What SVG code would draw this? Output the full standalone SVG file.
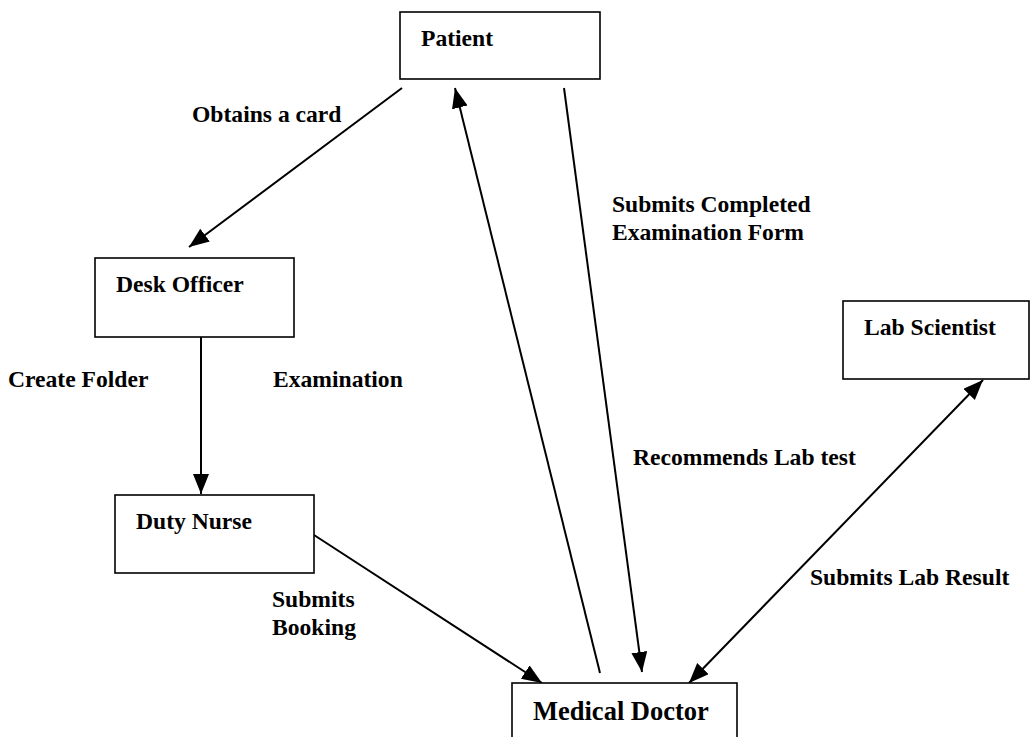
<svg xmlns="http://www.w3.org/2000/svg" width="1030" height="737" viewBox="0 0 1030 737">
  <style>
    .box { fill: #ffffff; stroke: #000000; stroke-width: 1.6; }
    .lbl { font-family: "Liberation Serif", "Times New Roman", serif; font-weight: bold; font-size: 23.6px; fill: #000000; }
    .big { font-size: 26.5px; }
    .edge { stroke: #000000; stroke-width: 2; fill: none; }
  </style>
  <defs>
    <marker id="head" markerUnits="userSpaceOnUse" markerWidth="22" markerHeight="18" refX="20" refY="8" orient="auto-start-reverse">
      <path d="M0,0 L20,8 L0,16 z" fill="#000000"/>
    </marker>
  </defs>

  <rect width="1030" height="737" fill="#ffffff"/>

  <!-- connectors -->
  <g id="connectors">
    <line class="edge" x1="402" y1="88" x2="189" y2="247" marker-end="url(#head)"/>
    <line class="edge" x1="201" y1="337" x2="201" y2="494" marker-end="url(#head)"/>
    <line class="edge" x1="314" y1="535" x2="542" y2="683" marker-end="url(#head)"/>
    <line class="edge" x1="600" y1="673" x2="455" y2="88" marker-end="url(#head)"/>
    <line class="edge" x1="564" y1="88" x2="642" y2="672" marker-end="url(#head)"/>
    <line class="edge" x1="689" y1="683" x2="983" y2="380" marker-start="url(#head)" marker-end="url(#head)"/>
  </g>

  <!-- connector labels -->
  <g id="labels">
    <text class="lbl" x="192" y="122">Obtains a card</text>
    <text class="lbl" x="8" y="387">Create Folder</text>
    <text class="lbl" x="273" y="387">Examination</text>
    <text class="lbl" x="272" y="607">Submits</text>
    <text class="lbl" x="272" y="635">Booking</text>
    <text class="lbl" x="612" y="212">Submits Completed</text>
    <text class="lbl" x="612" y="240">Examination Form</text>
    <text class="lbl" x="633" y="465">Recommends Lab test</text>
    <text class="lbl" x="810" y="585">Submits Lab Result</text>
  </g>

  <!-- nodes -->
  <g id="patient">
    <rect class="box" x="400" y="12" width="200" height="67"/>
    <text class="lbl" x="421" y="46">Patient</text>
  </g>
  <g id="desk-officer">
    <rect class="box" x="95" y="258" width="199" height="79"/>
    <text class="lbl" x="116" y="292">Desk Officer</text>
  </g>
  <g id="duty-nurse">
    <rect class="box" x="115" y="495" width="199" height="78"/>
    <text class="lbl" x="136" y="529">Duty Nurse</text>
  </g>
  <g id="lab-scientist">
    <rect class="box" x="843" y="301" width="186" height="78"/>
    <text class="lbl" x="864" y="335">Lab Scientist</text>
  </g>
  <g id="medical-doctor">
    <rect class="box" x="512" y="683" width="225" height="70"/>
    <text class="lbl big" x="533" y="720">Medical Doctor</text>
  </g>
</svg>
